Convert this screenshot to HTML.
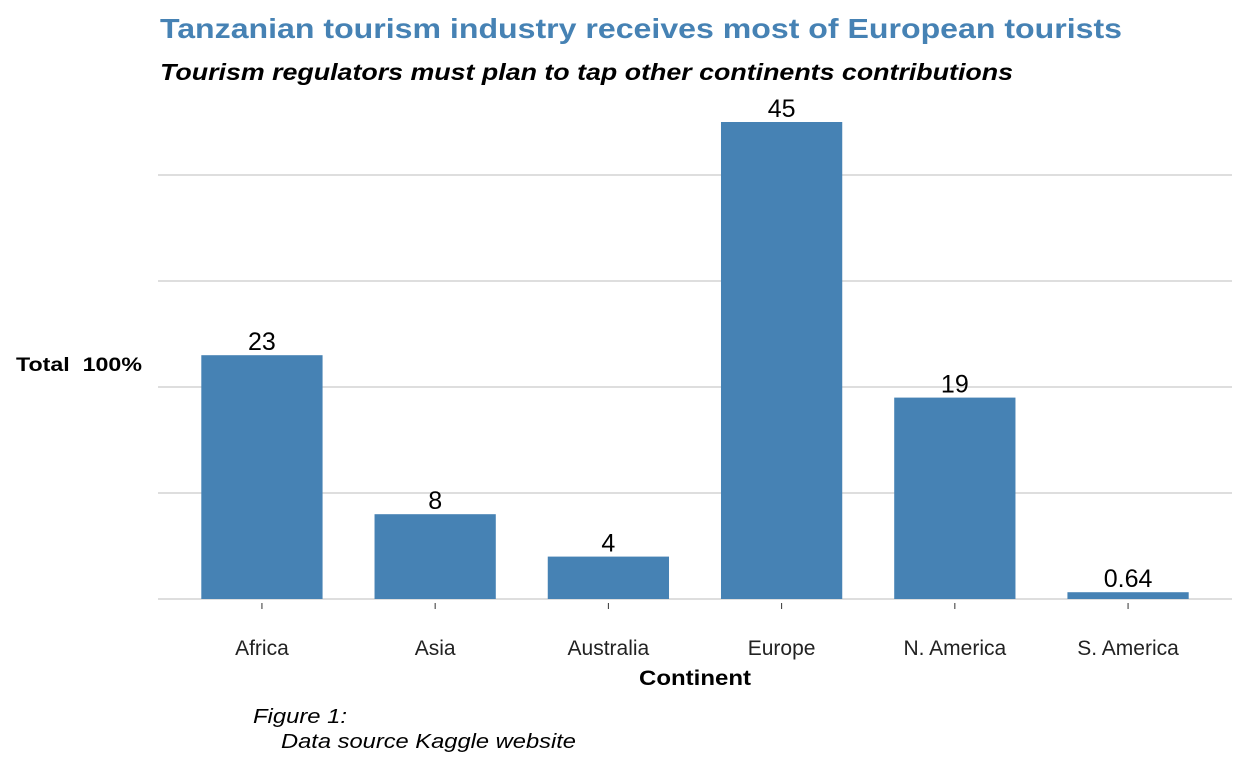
<!DOCTYPE html>
<html><head><meta charset="utf-8"><style>
body{margin:0;background:#fff;font-family:"Liberation Sans",sans-serif;}
svg{display:block}
</style></head><body>
<svg id="chart" width="1248" height="768">
<text x="160" y="38" font-size="28" font-weight="bold" fill="#4682b4" textLength="962" lengthAdjust="spacingAndGlyphs">Tanzanian tourism industry receives most of European tourists</text>
<text x="160" y="80" font-size="23" font-weight="bold" font-style="italic" fill="#000" textLength="853" lengthAdjust="spacingAndGlyphs">Tourism regulators must plan to tap other continents contributions</text>
<text x="16" y="371" font-size="19" font-weight="bold" xml:space="preserve" textLength="126" lengthAdjust="spacingAndGlyphs">Total  100%</text>
<text x="639" y="685" font-size="21" font-weight="bold" textLength="112" lengthAdjust="spacingAndGlyphs">Continent</text>
<text x="253" y="723" font-size="20" font-style="italic" textLength="94" lengthAdjust="spacingAndGlyphs">Figure 1:</text>
<text x="281" y="748" font-size="20" font-style="italic" textLength="295" lengthAdjust="spacingAndGlyphs">Data source Kaggle website</text>
<g id="grid"></g><g id="bars"></g><g id="xaxis"></g>
</svg>
<script>
const categories=["Africa","Asia","Australia","Europe","N. America","S. America"];
const values=[23,8,4,45,19,0.64];
const labels=["23","8","4","45","19","0.64"];
const gridTicks=[0,10,20,30,40];
const ns="http://www.w3.org/2000/svg";
const x0=158,x1=1232,base=599,pxPer=10.6;
const step=(x1-x0)/(categories.length-1+1.2);
const xc=i=>x0+step*(0.6+i);
const y=v=>base-v*pxPer;
function mk(t,a,p){const e=document.createElementNS(ns,t);for(const k in a)e.setAttribute(k,a[k]);p.appendChild(e);return e;}
const g=document.getElementById('grid'),b=document.getElementById('bars'),xa=document.getElementById('xaxis');
gridTicks.forEach(v=>{
const l=mk('line',{x1:x0,x2:x1,y1:y(v),y2:y(v),stroke:'#d3d3d3','stroke-width':1.5},g);


});
categories.forEach((c,i)=>{
const w=step*0.7;
const r=mk('rect',{x:xc(i)-w/2,y:y(values[i]),width:w,height:values[i]*pxPer,fill:'#4682b4'},b);


const t=mk('text',{x:xc(i),y:y(values[i])-5,'font-size':25,'text-anchor':'middle'},b);
t.textContent=labels[i];


const tk=mk('line',{x1:xc(i),x2:xc(i),y1:603,y2:609,stroke:'#333','stroke-width':1},xa);


const tl=mk('text',{x:xc(i),y:655,'font-size':21,'text-anchor':'middle',fill:'#222'},xa);
tl.textContent=c;


});
</script>
</body></html>
